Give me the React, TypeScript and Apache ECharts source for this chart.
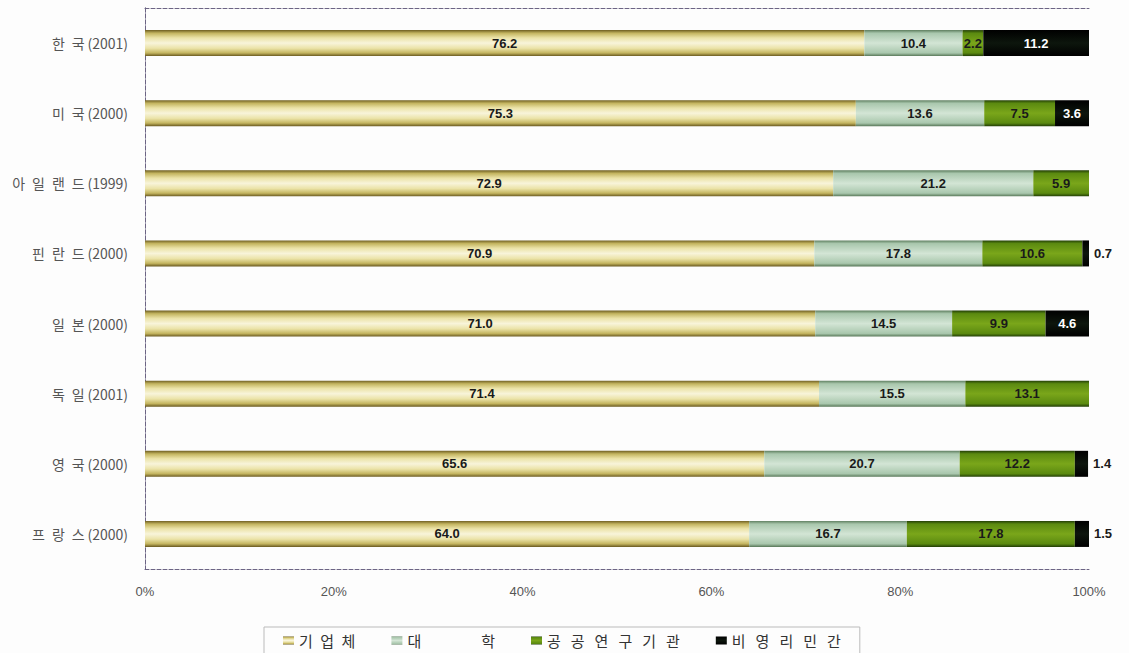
import React, { useEffect, useRef } from "react";
import * as echarts from "echarts";

const categories = [
  "한\u2002국\u2009(2001)",
  "미\u2002국\u2009(2000)",
  "아\u2002일\u2002랜\u2002드\u2009(1999)",
  "핀\u2002란\u2002드\u2009(2000)",
  "일\u2002본\u2009(2000)",
  "독\u2002일\u2009(2001)",
  "영\u2002국\u2009(2000)",
  "프\u2002랑\u2002스\u2009(2000)",
];
const seriesNames = ["기업체", "대학", "공공연구기관", "비영리민간"];
const legendTexts = [
  "기\u2002업\u2002체",
  "대\u2003\u2003\u2003\u2003학",
  "공\u2002\u2006공\u2002\u2006연\u2002\u2006구\u2002\u2006기\u2002\u2006관",
  "비\u2002\u2006영\u2002\u2006리\u2002\u2006민\u2002\u2006간",
];
const business = [76.2, 75.3, 72.9, 70.9, 71.0, 71.4, 65.6, 64.0];
const university = [10.4, 13.6, 21.2, 17.8, 14.5, 15.5, 20.7, 16.7];
const publicInst = [2.2, 7.5, 5.9, 10.6, 9.9, 13.1, 12.2, 17.8];
const nonProfit = [11.2, 3.6, null, 0.7, 4.6, null, 1.4, 1.5];
const xTicks = [0, 20, 40, 60, 80, 100];

const grad = (stops: [number, string][]) =>
  new echarts.graphic.LinearGradient(
    0, 0, 0, 1,
    stops.map(([offset, color]) => ({ offset, color }))
  );

const colors = [
  grad([[0, "#6f5f22"], [0.12, "#c4b560"], [0.3, "#ebe3a8"], [0.5, "#f8f4da"], [0.7, "#ebe3a8"], [0.88, "#c4b560"], [1, "#6a5a20"]]),
  grad([[0, "#5f7f60"], [0.12, "#a9c7ad"], [0.5, "#d3e5d5"], [0.88, "#a9c7ad"], [1, "#587858"]]),
  grad([[0, "#223e06"], [0.12, "#5b8a10"], [0.5, "#7aa61a"], [0.88, "#5b8a10"], [1, "#223e06"]]),
  grad([[0, "#000000"], [0.5, "#0d160d"], [1, "#000000"]]),
];
const labelColors = ["#1a1a1a", "#1a1a1a", "#1a1a1a", "#ffffff"];
const dataSets = [business, university, publicInst, nonProfit];

export default function App() {
  const ref = useRef<HTMLDivElement>(null);
  useEffect(() => {
    if (!ref.current) return;
    const chart = echarts.init(ref.current, null, { renderer: "svg" });
    const frame = { show: true, lineStyle: { color: "#6c6484", type: "dashed" as const, width: 1 } };
    chart.setOption({
      animation: false,
      backgroundColor: "#fdfdfd",
      grid: { left: 145, right: 40, top: 8, bottom: 84 },
      xAxis: [
        {
          type: "value",
          min: 0,
          max: 100,
          interval: 20,
          axisLine: frame,
          axisTick: { show: false },
          splitLine: { show: false },
          axisLabel: {
            margin: 16,
            color: "#555",
            fontSize: 13,
            fontFamily: "Liberation Sans, Arial, sans-serif",
            formatter: (v: number) => (xTicks.includes(v) ? v + "%" : ""),
          },
        },
        {
          type: "value",
          position: "top",
          min: 0,
          max: 100,
          axisLine: frame,
          axisTick: { show: false },
          axisLabel: { show: false },
          splitLine: { show: false },
        },
      ],
      yAxis: [
        {
          type: "category",
          data: categories,
          inverse: true,
          axisLine: frame,
          axisTick: { show: false },
          axisLabel: {
            margin: 17,
            color: "#555",
            fontSize: 14,
            fontFamily: "Noto Sans CJK KR, sans-serif",
          },
        },
        {
          type: "category",
          data: categories,
          inverse: true,
          position: "right",
          axisLine: frame,
          axisTick: { show: false },
          axisLabel: { show: false },
        },
      ],
      legend: {
        top: 627,
        left: 264,
        borderColor: "#bbbbbb",
        borderWidth: 1,
        padding: [6, 19, 10, 19],
        itemGap: 36,
        itemWidth: 11,
        itemHeight: 8,
        icon: "rect",
        data: seriesNames,
        formatter: (name: string) => legendTexts[seriesNames.indexOf(name)],
        textStyle: { fontSize: 15, color: "#333", fontFamily: "Noto Sans CJK KR, sans-serif" },
      },
      series: dataSets.map((arr, si) => ({
        name: seriesNames[si],
        type: "bar",
        stack: "total",
        barWidth: 26,
        itemStyle: { color: colors[si] },
        data: arr.map((v) => ({
          value: v,
          label:
            v !== null && v < 2
              ? { position: "right", distance: 5, color: "#1a1a1a" }
              : undefined,
        })),
        label: {
          show: true,
          position: "inside",
          color: labelColors[si],
          fontSize: 13,
          fontWeight: "bold",
          fontFamily: "Liberation Sans, Arial, sans-serif",
          formatter: (p: any) => (p.value == null ? "" : Number(p.value).toFixed(1)),
        },
      })),
    });
    return () => chart.dispose();
  }, []);
  return (
    <div
      ref={ref}
      style={{ position: "fixed", left: 0, top: 0, width: 1129, height: 653 }}
    />
  );
}
